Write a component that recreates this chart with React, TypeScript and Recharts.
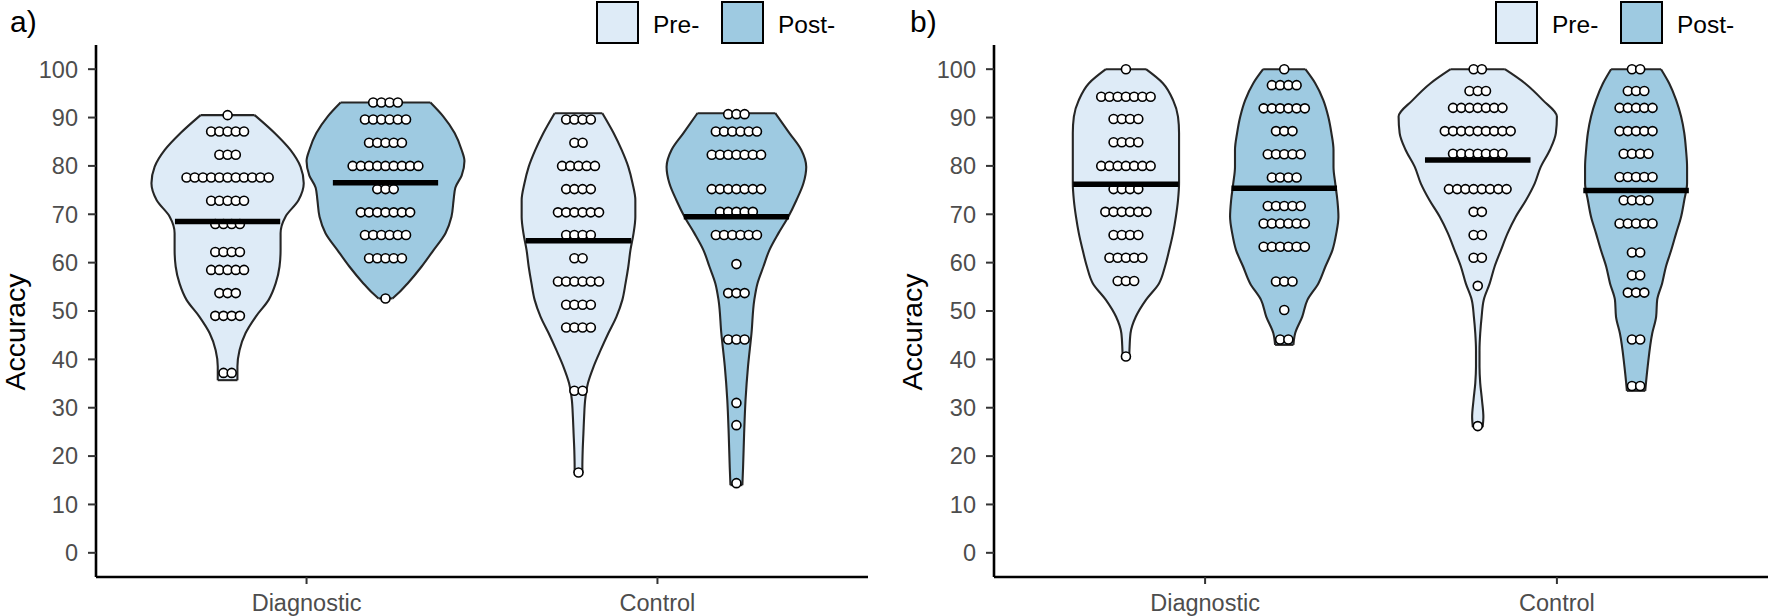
import React from 'react';
import { ComposedChart, Area, Scatter, XAxis, YAxis, ReferenceLine } from 'recharts';

// ---------- data ----------
const categories = ['Diagnostic', 'Control'];
const groups = ['Pre-', 'Post-'];
const yTicks = [0, 10, 20, 30, 40, 50, 60, 70, 80, 90, 100];

// violin profiles: [accuracy, half-width in category units]
const aDiagPreViolin: [number, number][] = [
  [35.7, 0.028], [38.5, 0.028], [41.9, 0.034], [45.4, 0.051], [48.8, 0.08], [52.3, 0.117],
  [55.7, 0.137], [59.2, 0.148], [62.6, 0.151], [66.1, 0.151], [69.5, 0.165], [72.9, 0.202],
  [76.4, 0.217], [79.8, 0.208], [83.3, 0.179], [86.8, 0.134], [90.5, 0.077],
];
const aDiagPostViolin: [number, number][] = [
  [52.6, 0.02], [53.7, 0.037], [55.7, 0.063], [59.2, 0.103], [62.6, 0.137], [66.1, 0.171],
  [69.5, 0.188], [72.9, 0.194], [75.5, 0.199], [78.0, 0.217], [81.0, 0.225], [83.3, 0.217],
  [86.8, 0.197], [90.2, 0.165], [93.1, 0.128],
];
const aCtrlPreViolin: [number, number][] = [
  [16.5, 0.011], [17.7, 0.011], [21.3, 0.012], [24.7, 0.014], [28.1, 0.016], [31.6, 0.019],
  [35.1, 0.027], [38.5, 0.043], [41.9, 0.063], [45.4, 0.085], [48.8, 0.108], [52.3, 0.125],
  [55.7, 0.134], [59.2, 0.142], [62.6, 0.148], [66.1, 0.157], [69.5, 0.162], [72.9, 0.162],
  [76.4, 0.154], [79.8, 0.142], [83.3, 0.123], [86.8, 0.1], [90.9, 0.068],
];
const aCtrlPostViolin: [number, number][] = [
  [14.0, 0.017], [17.7, 0.019], [24.7, 0.022], [31.6, 0.026], [38.5, 0.033], [45.4, 0.043],
  [52.3, 0.051], [55.7, 0.06], [59.2, 0.077], [62.6, 0.094], [66.1, 0.12], [69.5, 0.148],
  [72.9, 0.171], [76.4, 0.191], [79.8, 0.199], [83.3, 0.185], [86.8, 0.151], [90.9, 0.111],
];
const bDiagPreViolin: [number, number][] = [
  [40.0, 0.009], [41.9, 0.01], [45.4, 0.013], [48.8, 0.028], [52.3, 0.057], [55.7, 0.094],
  [59.2, 0.111], [62.6, 0.123], [66.1, 0.134], [69.5, 0.142], [72.9, 0.148], [76.4, 0.151],
  [79.8, 0.151], [83.3, 0.151], [86.8, 0.151], [90.2, 0.148], [93.6, 0.134], [97.1, 0.105],
  [100, 0.057],
];
const bDiagPostViolin: [number, number][] = [
  [43.0, 0.026], [45.4, 0.031], [48.8, 0.051], [52.3, 0.066], [55.7, 0.097], [59.2, 0.117],
  [62.6, 0.137], [66.1, 0.148], [69.5, 0.154], [72.9, 0.151], [76.4, 0.145], [79.8, 0.14],
  [83.3, 0.14], [86.8, 0.134], [90.2, 0.125], [93.6, 0.111], [97.1, 0.088], [100, 0.06],
];
const bCtrlPreViolin: [number, number][] = [
  [26.0, 0.014], [28.1, 0.016], [31.6, 0.012], [35.1, 0.007], [38.5, 0.005], [41.9, 0.005],
  [45.4, 0.007], [48.8, 0.011], [52.3, 0.017], [55.7, 0.034], [59.2, 0.048], [62.6, 0.066],
  [66.1, 0.085], [69.5, 0.108], [72.9, 0.137], [76.4, 0.162], [79.8, 0.179], [83.3, 0.205],
  [86.8, 0.222], [90.2, 0.225], [93.6, 0.185], [97.1, 0.134], [100, 0.077],
];
const bCtrlPostViolin: [number, number][] = [
  [33.5, 0.026], [38.5, 0.033], [45.4, 0.046], [48.8, 0.057], [52.3, 0.06], [55.7, 0.074],
  [59.2, 0.085], [62.6, 0.1], [66.1, 0.114], [69.5, 0.128], [72.9, 0.137], [76.4, 0.145],
  [79.8, 0.145], [83.3, 0.142], [86.8, 0.137], [90.2, 0.128], [93.6, 0.114], [97.1, 0.094],
  [100, 0.071],
];

// dot rows: [accuracy, number of participants]
const aDiagPreDots: [number, number][] = [
  [90.5, 1], [87.1, 5], [82.3, 3], [77.6, 11], [72.8, 5], [68.0, 4], [62.2, 4], [58.5, 5],
  [53.7, 3], [49.0, 4], [37.2, 2],
];
const aDiagPostDots: [number, number][] = [
  [93.1, 4], [89.6, 6], [84.8, 5], [80.0, 9], [75.2, 3], [70.4, 7], [65.7, 6], [60.9, 5], [52.6, 1],
];
const aCtrlPreDots: [number, number][] = [
  [89.6, 4], [84.8, 2], [80.0, 5], [75.2, 4], [70.4, 6], [65.7, 4], [60.9, 2], [56.1, 6],
  [51.3, 4], [46.6, 4], [33.5, 2], [16.6, 1],
];
const aCtrlPostDots: [number, number][] = [
  [90.7, 3], [87.1, 6], [82.3, 7], [75.2, 7], [70.5, 5], [65.7, 6], [59.7, 1], [53.7, 3],
  [44.1, 3], [31.0, 1], [26.4, 1], [14.4, 1],
];
const bDiagPreDots: [number, number][] = [
  [100, 1], [94.3, 7], [89.7, 4], [84.9, 4], [80.0, 7], [75.2, 4], [70.5, 6], [65.7, 4],
  [61.0, 5], [56.2, 3], [40.6, 1],
];
const bDiagPostDots: [number, number][] = [
  [100, 1], [96.7, 4], [91.9, 6], [87.2, 3], [82.4, 5], [77.6, 4], [71.7, 5], [68.1, 6],
  [63.3, 6], [56.1, 3], [50.2, 1], [44.1, 2],
];
const bCtrlPreDots: [number, number][] = [
  [100, 2], [95.5, 3], [92.0, 7], [87.2, 9], [82.5, 7], [75.2, 8], [70.5, 2], [65.7, 2],
  [61.0, 2], [55.2, 1], [26.2, 1],
];
const bCtrlPostDots: [number, number][] = [
  [100, 2], [95.5, 3], [92.0, 5], [87.2, 5], [82.5, 4], [77.7, 5], [72.9, 4], [68.1, 5],
  [62.1, 2], [57.4, 2], [53.8, 3], [44.1, 2], [34.5, 2],
];

// medians: Diagnostic Pre, Diagnostic Post, Control Pre, Control Post
const aMedians = [68.5, 76.5, 64.5, 69.5];
const bMedians = [76.2, 75.4, 81.2, 74.9];

// ---------- styling / layout constants ----------
const FONT = '"Liberation Sans", Arial, Helvetica, sans-serif';
const FILLS = ['#deebf7', '#9ecae1'];
const OUTLINE = '#262626';
const OUTLINE_W = 2.1;
const DODGE = 0.225;
const DOT_STEP = 0.0234;
const MEDIAN_HALF = 0.15;

const renderDot = (p: any) => (
  <circle cx={p.cx} cy={p.cy} r={4.5} fill="#ffffff" stroke="#000000" strokeWidth={1.6} />
);

const makeYLabel = (cx: number, shift: number) => (p: any) => {
  const vb = p && p.viewBox;
  const cy = (vb && typeof vb.y === 'number' && typeof vb.height === 'number' ? vb.y + vb.height / 2 : 311) + shift;
  return (
    <text
      x={cx}
      y={cy}
      transform={`rotate(-90, ${cx}, ${cy})`}
      textAnchor="middle"
      dominantBaseline="central"
      fontSize={28.5}
      fontFamily={FONT}
      fill="#000"
    >
      Accuracy
    </text>
  );
};

type PanelProps = {
  title: string;
  titleX: number;
  left: number;
  width: number;
  yAxisWidth: number;
  marginRight: number;
  labelX: number;
  legendX: number;
  violins: [number, number][][];
  dots: [number, number][][];
  medians: number[];
};

function Legend({ x }: { x: number }) {
  const offsets = [0, 125];
  return (
    <svg style={{ position: 'absolute', left: x, top: 0 }} width={270} height={48}>
      {groups.map((g, i) => (
        <g key={g}>
          <rect x={offsets[i] + 1} y={2} width={41} height={41} fill={FILLS[i]} stroke="#000" strokeWidth={2} />
          <text x={offsets[i] + 57} y={33} fontSize={24.5} fontFamily={FONT} fill="#000">
            {g}
          </text>
        </g>
      ))}
    </svg>
  );
}

function Panel(props: PanelProps) {
  const { title, titleX, left, width, yAxisWidth, marginRight, labelX, legendX, violins, dots, medians } = props;
  const series = categories.flatMap((cat, ci) =>
    groups.map((g, gi) => {
      const idx = ci * 2 + gi;
      const c = ci + 1 + (gi === 0 ? -DODGE : DODGE);
      return {
        key: `${cat}-${g}`,
        c,
        fill: FILLS[gi],
        violin: violins[idx].map(([y, w]) => ({ y, range: [c - w, c + w] })),
        profile: violins[idx],
        dots: dots[idx].flatMap(([y, n]) =>
          Array.from({ length: n }, (_, k) => ({ x: c + (k - (n - 1) / 2) * DOT_STEP, y }))
        ),
        median: medians[idx],
      };
    })
  );

  return (
    <>
      <div
        style={{
          position: 'absolute',
          left: titleX,
          top: 0,
          fontFamily: FONT,
          fontSize: 30,
          lineHeight: '38px',
          paddingTop: 3,
          color: '#000',
        }}
      >
        {title}
      </div>
      <div style={{ position: 'absolute', left, top: 0 }}>
        <ComposedChart
          width={width}
          height={616}
          layout="vertical"
          margin={{ top: 45, right: marginRight, bottom: 0, left: 0 }}
        >
          <XAxis
            type="number"
            dataKey="x"
            domain={[0.4, 2.6]}
            ticks={[1, 2]}
            tickFormatter={(v: number) => categories[Math.round(v) - 1]}
            allowDataOverflow
            height={39}
            tickSize={7}
            tickMargin={10}
            axisLine={{ stroke: '#000', strokeWidth: 2.6 }}
            tickLine={{ stroke: '#333', strokeWidth: 2 }}
            tick={{ fill: '#4d4d4d', fontSize: 23.5, fontFamily: FONT }}
          />
          <YAxis
            type="number"
            dataKey="y"
            domain={[-5, 105]}
            ticks={yTicks}
            reversed
            allowDataOverflow
            width={yAxisWidth}
            tickSize={8}
            tickMargin={10}
            axisLine={{ stroke: '#000', strokeWidth: 2.6 }}
            tickLine={{ stroke: '#333', strokeWidth: 2 }}
            tick={{ fill: '#4d4d4d', fontSize: 23.5, fontFamily: FONT }}
            label={{ value: 'Accuracy', content: makeYLabel(labelX, 21) }}
          />
          {series.map((s) => (
            <Area
              key={'v' + s.key}
              data={s.violin}
              dataKey="range"
              type="monotone"
              stroke={OUTLINE}
              strokeWidth={OUTLINE_W}
              fill={s.fill}
              fillOpacity={1}
              dot={false}
              activeDot={false}
              isAnimationActive={false}
            />
          ))}
          {series.map((s) => {
            const [y0, w0] = s.profile[0];
            const [y1, w1] = s.profile[s.profile.length - 1];
            return [
              <ReferenceLine
                key={'cb' + s.key}
                segment={[{ x: s.c - w0, y: y0 }, { x: s.c + w0, y: y0 }]}
                stroke={OUTLINE}
                strokeWidth={OUTLINE_W}
                ifOverflow="visible"
              />,
              <ReferenceLine
                key={'ct' + s.key}
                segment={[{ x: s.c - w1, y: y1 }, { x: s.c + w1, y: y1 }]}
                stroke={OUTLINE}
                strokeWidth={OUTLINE_W}
                ifOverflow="visible"
              />,
            ];
          })}
          {series.map((s) => (
            <Scatter key={'d' + s.key} data={s.dots} shape={renderDot} isAnimationActive={false} />
          ))}
          {series.map((s) => (
            <ReferenceLine
              key={'m' + s.key}
              segment={[{ x: s.c - MEDIAN_HALF, y: s.median }, { x: s.c + MEDIAN_HALF, y: s.median }]}
              stroke="#000"
              strokeWidth={5.5}
              ifOverflow="visible"
              {...({ zIndex: 700 } as any)}
            />
          ))}
        </ComposedChart>
      </div>
      <Legend x={legendX} />
    </>
  );
}

export default function App() {
  return (
    <div style={{ position: 'absolute', left: 0, top: 0, width: 1769, height: 616, background: '#fff', overflow: 'hidden' }}>
      <Panel
        title="a)"
        titleX={10}
        left={0}
        width={880}
        yAxisWidth={96}
        marginRight={12}
        labelX={15}
        legendX={596}
        violins={[aDiagPreViolin, aDiagPostViolin, aCtrlPreViolin, aCtrlPostViolin]}
        dots={[aDiagPreDots, aDiagPostDots, aCtrlPreDots, aCtrlPostDots]}
        medians={aMedians}
      />
      <Panel
        title="b)"
        titleX={910}
        left={880}
        width={889}
        yAxisWidth={114}
        marginRight={1}
        labelX={32}
        legendX={1495}
        violins={[bDiagPreViolin, bDiagPostViolin, bCtrlPreViolin, bCtrlPostViolin]}
        dots={[bDiagPreDots, bDiagPostDots, bCtrlPreDots, bCtrlPostDots]}
        medians={bMedians}
      />
    </div>
  );
}
